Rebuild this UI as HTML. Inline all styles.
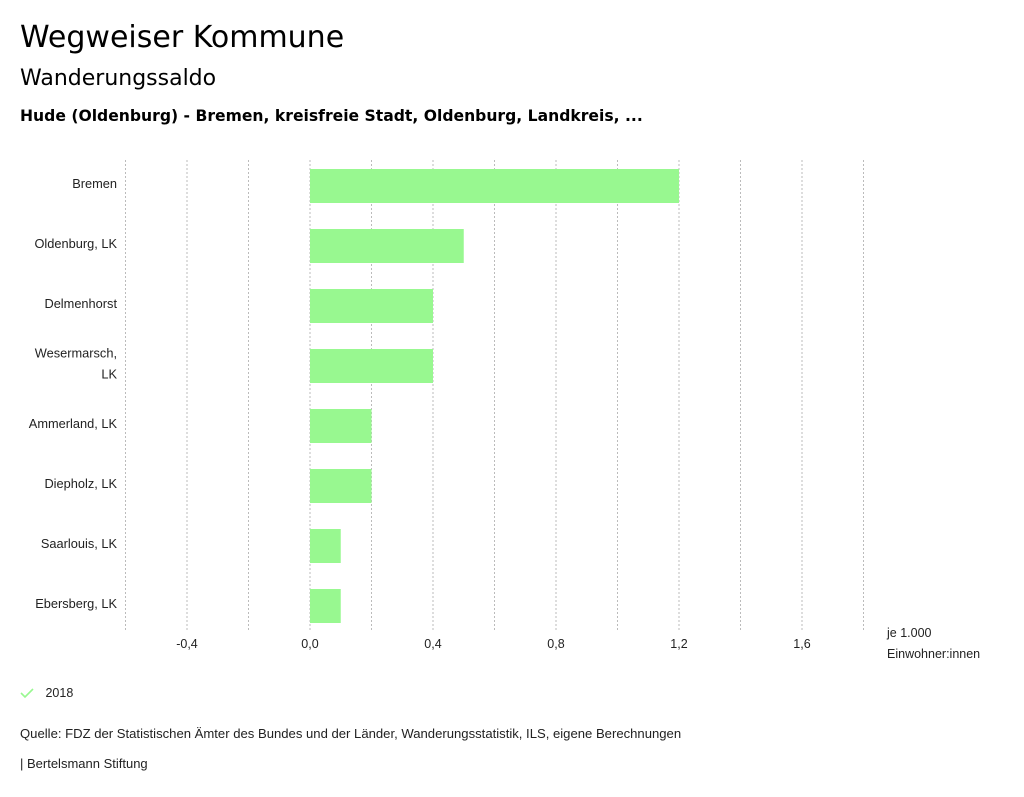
<!DOCTYPE html>
<html><head><meta charset="utf-8"><style>
body{margin:0;background:#fff;width:1024px;height:797px;overflow:hidden;font-family:"Liberation Sans",sans-serif;color:#222}
.t{position:absolute;left:20px;font-family:"DejaVu Sans",sans-serif;color:#000;white-space:nowrap}
.s{position:absolute;font-size:12.5px;color:#222;white-space:nowrap}
</style></head><body>
<div class="t" style="top:20px;font-size:30px">Wegweiser Kommune</div>
<div class="t" style="top:66px;font-size:22px">Wanderungssaldo</div>
<div class="t" style="top:107px;font-size:15.6px;font-weight:bold">Hude (Oldenburg) - Bremen, kreisfreie Stadt, Oldenburg, Landkreis, ...</div>
<svg id="chart" width="1024" height="797" style="position:absolute;left:0;top:0"></svg>
<div class="s" style="left:887px;top:623px;line-height:21px">je 1.000<br>Einwohner:innen</div>
<div style="position:absolute;left:20px;top:686px;font-size:12.5px">
<svg width="14" height="12" style="vertical-align:middle"><path d="M1 5 L5 9 L13 1" stroke="#98f890" stroke-width="1.6" fill="none"/></svg>
<span style="margin-left:8px">2018</span></div>
<div class="s" style="left:20px;top:726px;font-size:13.1px">Quelle: FDZ der Statistischen Ämter des Bundes und der Länder, Wanderungsstatistik, ILS, eigene Berechnungen</div>
<div class="s" style="left:20px;top:756px;font-size:13px">| Bertelsmann Stiftung</div>
<script>
const categories=["Bremen","Oldenburg, LK","Delmenhorst","Wesermarsch, LK","Ammerland, LK","Diepholz, LK","Saarlouis, LK","Ebersberg, LK"];
const values2018=[1.2,0.5,0.4,0.4,0.2,0.2,0.1,0.1];
const gridValues=[-0.6,-0.4,-0.2,0,0.2,0.4,0.6,0.8,1.0,1.2,1.4,1.6,1.8];
const tickValues=[-0.4,0,0.4,0.8,1.2,1.6];
const tickLabels=["-0,4","0,0","0,4","0,8","1,2","1,6"];
const NS="http://www.w3.org/2000/svg";
const svg=document.getElementById('chart');
const x=v=>310+v*307.5;
const y=i=>169+i*60;
function mk(t,a){const e=document.createElementNS(NS,t);for(const k in a)e.setAttribute(k,a[k]);svg.appendChild(e);return e;}
gridValues.forEach(v=>{const l=mk('line',{x1:x(v),x2:x(v),y1:160,y2:632,stroke:'#bbb','stroke-dasharray':'2,2','stroke-width':1});

});
values2018.forEach((v,i)=>{const r=mk('rect',{x:Math.min(x(0),x(v)),y:y(i),width:Math.abs(x(v)-x(0)),height:34,fill:'#98f890'});

});
categories.forEach((c,i)=>{
 const parts=c==="Wesermarsch, LK"?["Wesermarsch,","LK"]:[c];
 parts.forEach((p,j)=>{const t=mk('text',{x:117,y:y(i)+19+(parts.length>1?(j-0.5)*21:0),'text-anchor':'end','font-size':'12.8',fill:'#222','font-family':'Liberation Sans, sans-serif'});t.textContent=p;
 
 });
});
tickValues.forEach((v,i)=>{const t=mk('text',{x:x(v),y:648,'text-anchor':'middle','font-size':'12.5',fill:'#222','font-family':'Liberation Sans, sans-serif'});t.textContent=tickLabels[i];

});
</script>
</body></html>
